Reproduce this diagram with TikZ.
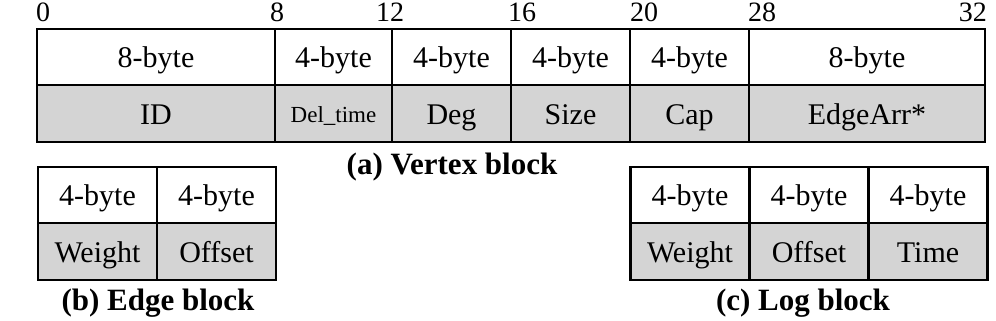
\documentclass[tikz,border=0pt]{standalone}
\usepackage{fontspec}
\setmainfont{Liberation Serif}
\begin{document}
\begin{tikzpicture}[x=1pt,y=-1pt,
  cell/.style={draw=black, line width=2.5pt, inner sep=0pt, minimum height=56pt,
    text height=21pt, text depth=0pt, font=\fontsize{30}{32}\selectfont},
  hdr/.style={cell, fill=white},
  fld/.style={cell, fill=black!17, minimum height=57pt},
  w4/.style={minimum width=119pt},
  ticklbl/.style={inner sep=0pt, font=\fontsize{28}{30}\selectfont},
  captxt/.style={inner sep=0pt, font=\fontsize{31}{34}\selectfont\bfseries}]
\useasboundingbox (0,0) rectangle (996,321);
% Vertex block
\node[hdr,minimum width=238pt] (v1) at (156,57) {8-byte};
\node[hdr,minimum width=117pt] (v2) at (333.5,57) {4-byte};
\node[hdr,w4] (v3) at (451.5,57) {4-byte};
\node[hdr,w4] (v4) at (570.5,57) {4-byte};
\node[hdr,w4] (v5) at (689.5,57) {4-byte};
\node[hdr,minimum width=236pt] (v6) at (867,57) {8-byte};
\node[fld,minimum width=238pt] (f1) at (156,113.5) {ID};
\node[fld,minimum width=117pt,text height=17pt,font=\fontsize{23}{26}\selectfont] (f2) at (333.5,113.5) {Del\_time};
\node[fld,w4] (f3) at (451.5,113.5) {Deg};
\node[fld,w4] (f4) at (570.5,113.5) {Size};
\node[fld,w4] (f5) at (689.5,113.5) {Cap};
\node[fld,minimum width=236pt] (f6) at (867,113.5) {EdgeArr*};
% ticks
\node[ticklbl,anchor=base west] (t0) at (36,22) {0};
\node[ticklbl,anchor=base] (t8) at (277,22) {8};
\node[ticklbl,anchor=base] (t12) at (390,22) {12};
\node[ticklbl,anchor=base west] (t16) at (508,22) {16};
\node[ticklbl,anchor=base west] (t20) at (630,22) {20};
\node[ticklbl,anchor=base west] (t28) at (748,22) {28};
\node[ticklbl,anchor=base east] (t32) at (987,22) {32};
\node[captxt] (capa) at (452,167) {(a) Vertex block};
% Edge block
\node[hdr,w4] (e1) at (97.5,195) {4-byte};
\node[hdr,w4] (e2) at (216.5,195) {4-byte};
\node[fld,w4] (g1) at (97.5,251.5) {Weight};
\node[fld,w4] (g2) at (216.5,251.5) {Offset};
\node[captxt] (capb) at (158,303) {(b) Edge block};
% Log block
\node[hdr,w4] (l1) at (690,195) {4-byte};
\node[hdr,w4] (l2) at (809,195) {4-byte};
\node[hdr,w4] (l3) at (928,195) {4-byte};
\node[fld,w4] (m1) at (690,251.5) {Weight};
\node[fld,w4] (m2) at (809,251.5) {Offset};
\node[fld,w4] (m3) at (928,251.5) {Time};
\node[captxt] (capc) at (803,303) {(c) Log block};
\end{tikzpicture}
\end{document}
